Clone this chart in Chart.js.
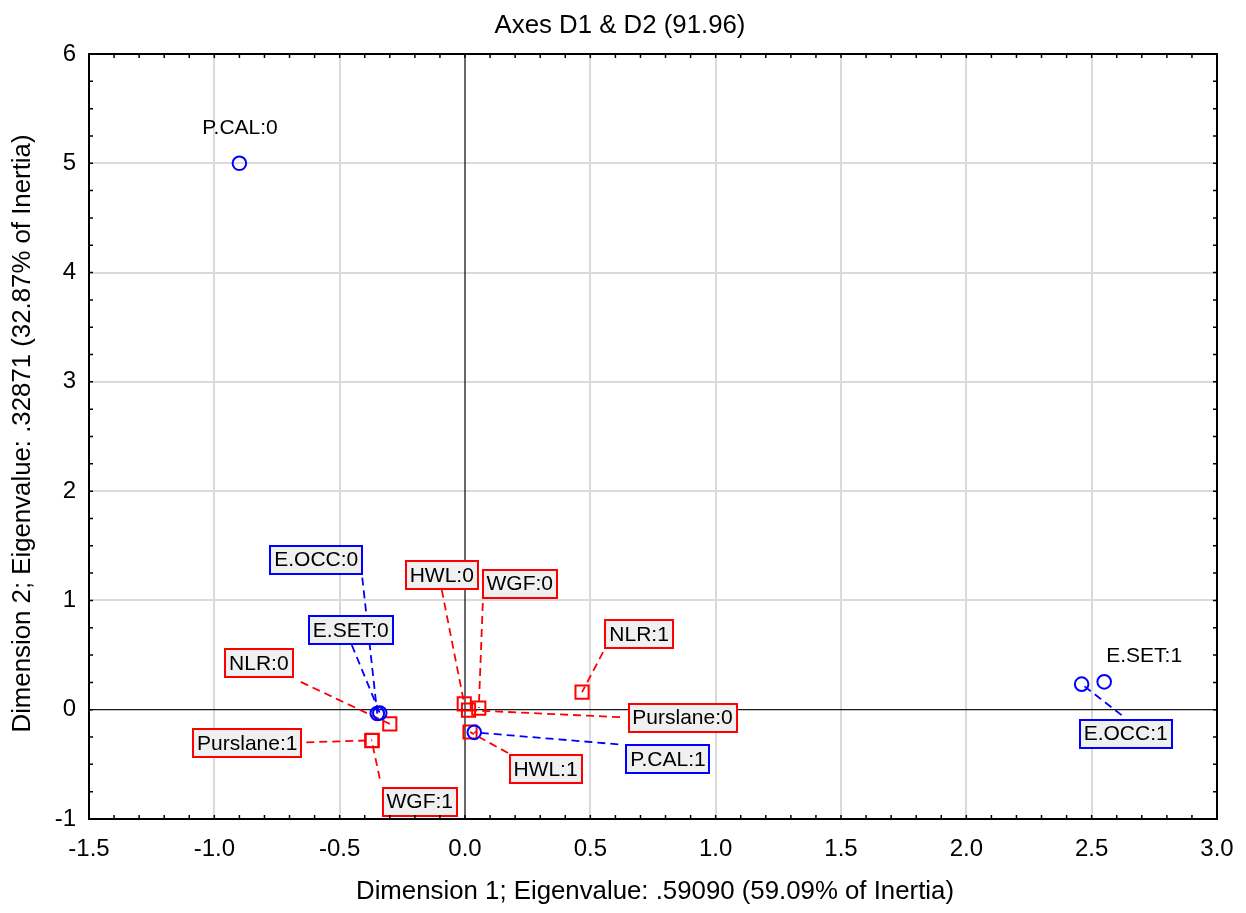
<!DOCTYPE html>
<html><head><meta charset="utf-8">
<script src="https://cdn.jsdelivr.net/npm/chart.js@4/dist/chart.umd.min.js"></script>
<style>html,body{margin:0;padding:0;background:#fff;}canvas{display:block;}</style>
</head><body>
<canvas id="c" width="1246" height="913"></canvas>
<script>
const FONT = '"Liberation Sans", Arial, Helvetica, sans-serif';
const titleText = 'Axes D1 & D2 (91.96)';
const xTitle = 'Dimension 1; Eigenvalue: .59090 (59.09% of Inertia)';
const yTitle = 'Dimension 2; Eigenvalue: .32871 (32.87% of Inertia)';

// Blue series (circles)
const blueLabels = ['P.CAL:0', 'P.CAL:1', 'E.OCC:0', 'E.SET:0', 'E.OCC:1', 'E.SET:1'];
const blueX = [-0.90, 0.037, -0.35, -0.34, 2.46, 2.55];
const blueY = [5.00, -0.207, -0.035, -0.03, 0.234, 0.255];

// Red series (squares)
const redLabels = ['NLR:0', 'NLR:1', 'Purslane:0', 'Purslane:1', 'WGF:0', 'WGF:1', 'HWL:0', 'HWL:1'];
const redX = [-0.30, 0.467, 0.014, -0.37, 0.055, -0.372, -0.003, 0.02];
const redY = [-0.13, 0.161, -0.004, -0.28, 0.015, -0.283, 0.054, -0.204];

// Tick labels
const xTickValues = [-1.5, -1.0, -0.5, 0.0, 0.5, 1.0, 1.5, 2.0, 2.5, 3.0];
const yTickValues = [-1, 0, 1, 2, 3, 4, 5, 6];

// Label placement (pixel offsets from the point): box centre and leader start
const labelLayout = {
  'P.CAL:0':    {box: false, cx: 0.6,   cy: -36},
  'P.CAL:1':    {box: true,  cx: 193.7, cy: 26.8,  lx: 144,   ly: 12},
  'E.OCC:0':    {box: true,  cx: -61,   cy: -154,  lx: -15,   ly: -136},
  'E.SET:0':    {box: true,  cx: -29,   cy: -83,   lx: -28,   ly: -68},
  'E.OCC:1':    {box: true,  cx: 44,    cy: 49.5,  lx: 40,    ly: 31},
  'E.SET:1':    {box: false, cx: 40,    cy: -27},
  'NLR:0':      {box: true,  cx: -131,  cy: -61,   lx: -89,   ly: -42},
  'NLR:1':      {box: true,  cx: 57,    cy: -58,   lx: 21,    ly: -40},
  'Purslane:0': {box: true,  cx: 214,   cy: 7.5,   lx: 151.5, ly: 7},
  'Purslane:1': {box: true,  cx: -125,  cy: 3,     lx: -66,   ly: 2},
  'WGF:0':      {box: true,  cx: 41,    cy: -124.5,lx: 4,     ly: -105},
  'WGF:1':      {box: true,  cx: 48,    cy: 61,    lx: 8,     ly: 38},
  'HWL:0':      {box: true,  cx: -22.5, cy: -129,  lx: -22.5, ly: -114},
  'HWL:1':      {box: true,  cx: 75.5,  cy: 37,    lx: 38,    ly: 21}
};

const BLUE = '#0000ff', RED = '#ff0000';

function seriesItems(chart) {
  const {x, y} = chart.scales;
  const items = [];
  blueLabels.forEach((l, i) => items.push({label: l, color: BLUE, px: x.getPixelForValue(blueX[i]), py: y.getPixelForValue(blueY[i])}));
  redLabels.forEach((l, i) => items.push({label: l, color: RED, px: x.getPixelForValue(redX[i]), py: y.getPixelForValue(redY[i])}));
  return items;
}

const deco = {
  id: 'deco',
  beforeDatasetsDraw(chart) {
    const {ctx, chartArea: a, scales: {x, y}} = chart;
    ctx.save();
    ctx.strokeStyle = '#1a1a1a';
    ctx.lineWidth = 1.3;
    const x0 = x.getPixelForValue(0), y0 = y.getPixelForValue(0);
    ctx.beginPath();
    ctx.moveTo(x0, a.top); ctx.lineTo(x0, a.bottom);
    ctx.moveTo(a.left, y0); ctx.lineTo(a.right, y0);
    ctx.stroke();
    // leader lines
    ctx.lineWidth = 1.8;
    ctx.setLineDash([8, 5]);
    seriesItems(chart).forEach(it => {
      const L = labelLayout[it.label];
      if (!L || L.lx === undefined) return;
      ctx.strokeStyle = it.color;
      ctx.beginPath();
      ctx.moveTo(it.px + L.lx, it.py + L.ly);
      ctx.lineTo(it.px, it.py);
      ctx.stroke();
    });
    ctx.restore();
  },
  afterDatasetsDraw(chart) {
    const {ctx, chartArea: a, scales: {x, y}} = chart;
    ctx.save();
    ctx.font = '21px ' + FONT;
    ctx.textAlign = 'center';
    ctx.textBaseline = 'middle';
    seriesItems(chart).forEach(it => {
      const L = labelLayout[it.label];
      if (!L) return;
      const cx = it.px + L.cx, cy = it.py + L.cy;
      if (L.box) {
        const w = Math.round(ctx.measureText(it.label).width + 8), h = 28;
        const bx = Math.round(cx - w / 2), by = Math.round(cy - h / 2);
        ctx.fillStyle = '#f0f0f0';
        ctx.fillRect(bx, by, w, h);
        ctx.strokeStyle = it.color;
        ctx.lineWidth = 2;
        ctx.strokeRect(bx, by, w, h);
      }
      ctx.fillStyle = '#000';
      ctx.fillText(it.label, cx, cy + 1);
    });
    // border
    ctx.strokeStyle = '#000';
    ctx.lineWidth = 2;
    ctx.strokeRect(a.left, a.top, a.right - a.left, a.bottom - a.top);
    // minor ticks
    ctx.lineWidth = 1.5;
    ctx.beginPath();
    const TL = 4;
    for (let k = 0; k <= 45; k++) {
      const v = -1.5 + k * 0.1;
      const p = x.getPixelForValue(v);
      ctx.moveTo(p, a.bottom); ctx.lineTo(p, a.bottom - TL);
      ctx.moveTo(p, a.top); ctx.lineTo(p, a.top + TL);
    }
    for (let k = 0; k <= 28; k++) {
      const v = -1 + k * 0.25;
      const p = y.getPixelForValue(v);
      ctx.moveTo(a.left, p); ctx.lineTo(a.left + TL, p);
      ctx.moveTo(a.right, p); ctx.lineTo(a.right - TL, p);
    }
    ctx.stroke();
    ctx.restore();
  },
  afterDraw(chart) {
    const {ctx, chartArea: a} = chart;
    ctx.save();
    ctx.fillStyle = '#000';
    ctx.font = '25.8px ' + FONT;
    ctx.textAlign = 'center';
    ctx.textBaseline = 'alphabetic';
    ctx.fillText(titleText, 620, 33);
    ctx.fillText(xTitle, (a.left + a.right) / 2 + 2, 899);
    ctx.translate(30, (a.top + a.bottom) / 2 - 3);
    ctx.rotate(-Math.PI / 2);
    ctx.fillText(yTitle, 0, 0);
    ctx.restore();
  }
};

const gridColor = c => (c.tick && Math.abs(c.tick.value) < 1e-9) ? 'rgba(0,0,0,0)' : '#dadada';

new Chart(document.getElementById('c'), {
  type: 'scatter',
  data: {
    datasets: [
      {
        label: 'Blue',
        data: blueX.map((v, i) => ({x: v, y: blueY[i]})),
        pointStyle: 'circle',
        pointRadius: 6.8,
        borderColor: BLUE,
        backgroundColor: 'rgba(0,0,0,0)',
        borderWidth: 2
      },
      {
        label: 'Red',
        data: redX.map((v, i) => ({x: v, y: redY[i]})),
        pointStyle: 'rect',
        pointRadius: 9.3,
        borderColor: RED,
        backgroundColor: 'rgba(0,0,0,0)',
        borderWidth: 2
      }
    ]
  },
  options: {
    responsive: false,
    devicePixelRatio: 1,
    animation: false,
    events: [],
    layout: {padding: {left: 0, right: 29, top: 54, bottom: 0}},
    plugins: {legend: {display: false}, tooltip: {enabled: false}, title: {display: false}},
    scales: {
      x: {
        type: 'linear', min: -1.5, max: 3.0,
        afterBuildTicks: s => { s.ticks = xTickValues.map(v => ({value: v})); },
        afterFit: s => { s.height = 94; s.paddingLeft = 0; s.paddingRight = 0; },
        ticks: {
          callback: v => Number(v).toFixed(1),
          font: {size: 24, family: FONT},
          color: '#000',
          padding: 16,
          maxRotation: 0,
          autoSkip: false
        },
        grid: {color: gridColor, lineWidth: 2, drawTicks: false},
        border: {display: false}
      },
      y: {
        type: 'linear', min: -1, max: 6,
        afterBuildTicks: s => { s.ticks = yTickValues.map(v => ({value: v})); },
        afterFit: s => { s.width = 89; s.paddingTop = 0; s.paddingBottom = 0; },
        ticks: {
          callback: v => String(v),
          font: {size: 24, family: FONT},
          color: '#000',
          padding: 13,
          autoSkip: false
        },
        grid: {color: gridColor, lineWidth: 2, drawTicks: false},
        border: {display: false}
      }
    }
  },
  plugins: [deco]
});
</script>
</body></html>
